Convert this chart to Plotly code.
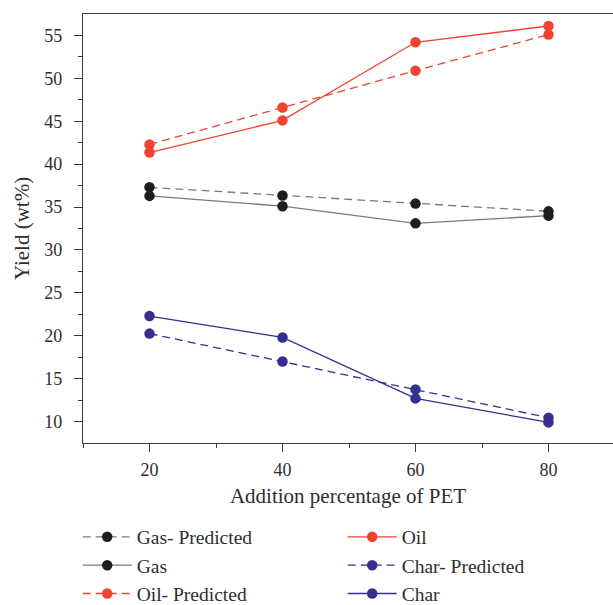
import plotly.graph_objects as go

x_pet = [20, 40, 60, 80]
gas_pred = [37.3, 36.35, 35.4, 34.5]
gas = [36.3, 35.1, 33.1, 34.0]
oil_pred = [42.3, 46.6, 50.9, 55.1]
oil = [41.35, 45.1, 54.2, 56.1]
char_pred = [20.25, 17.0, 13.75, 10.45]
char = [22.3, 19.8, 12.7, 9.9]

RED = "#EE4430"
BLACK = "#1E1E1E"
GRAY = "#7A7A7A"
BLUE = "#35308F"
FONT = "Liberation Serif, Times New Roman, serif"
TXT = "#2e2e2e"

series = [
    ("Gas- Predicted", gas_pred, GRAY, BLACK, "8px,5px", "legend"),
    ("Gas", gas, GRAY, BLACK, "solid", "legend"),
    ("Oil- Predicted", oil_pred, RED, RED, "8px,5px", "legend"),
    ("Oil", oil, RED, RED, "solid", "legend2"),
    ("Char- Predicted", char_pred, BLUE, BLUE, "8px,5px", "legend2"),
    ("Char", char, BLUE, BLUE, "solid", "legend2"),
]

fig = go.Figure()
for name, ys, lc, mc, dash, lg in series:
    fig.add_trace(go.Scatter(
        x=x_pet, y=ys, name=name, mode="lines+markers",
        line=dict(color=lc, width=1.3, dash=dash),
        marker=dict(color=mc, size=10.5, line=dict(width=0)),
        legend=lg,
    ))

axis_common = dict(
    showline=True, linecolor="#3a3a3a", linewidth=1.3,
    ticks="outside", ticklen=8, tickwidth=1.2, tickcolor="#3a3a3a",
    showgrid=False, zeroline=False,
    tickfont=dict(family=FONT, size=18, color=TXT),
)

legend_common = dict(
    yanchor="top", xanchor="left", orientation="v", itemwidth=49,
    bgcolor="rgba(0,0,0,0)", font=dict(family=FONT, size=19.5, color=TXT),
)

fig.update_layout(
    width=613, height=605,
    margin=dict(l=83, r=0, t=14, b=162, autoexpand=False),
    plot_bgcolor="white", paper_bgcolor="white",
    font=dict(family=FONT, size=18, color=TXT),
    xaxis=dict(
        **axis_common,
        range=[10, 89.7], tickvals=[20, 40, 60, 80], mirror=True,
        minor=dict(tickvals=[10, 30, 50, 70], ticklen=4, tickcolor="#3a3a3a", ticks="outside"),
        title=dict(text="Addition percentage of PET", font=dict(family=FONT, size=21, color=TXT), standoff=9),
        ticklabelstandoff=2,
    ),
    yaxis=dict(
        **axis_common,
        range=[7.5, 57.5], tickvals=[10, 15, 20, 25, 30, 35, 40, 45, 50, 55],
        minor=dict(tickvals=[12.5, 17.5, 22.5, 27.5, 32.5, 37.5, 42.5, 47.5, 52.5], ticklen=4,
                   tickcolor="#3a3a3a", ticks="outside"),
        title=dict(text="Yield (wt%)", font=dict(family=FONT, size=21, color=TXT), standoff=8),
        ticklabelstandoff=8,
    ),
    legend=dict(x=-0.01, y=-0.174, **legend_common),
    legend2=dict(x=0.49, y=-0.174, **legend_common),
)

fig.write_html("out.html")
